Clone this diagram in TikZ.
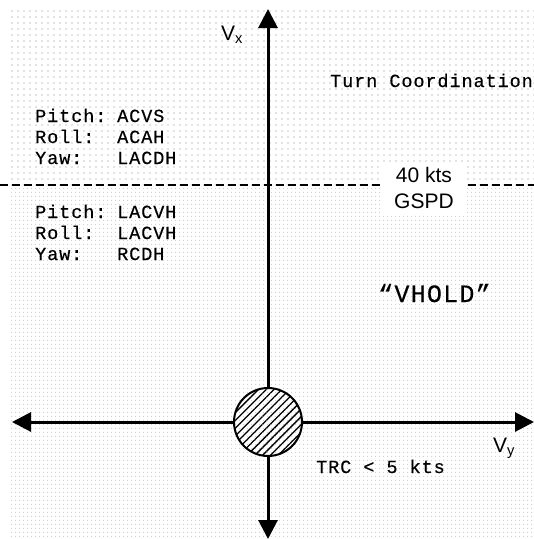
\documentclass[tikz,border=0pt]{standalone}
\usepackage{fontspec}
\usepackage{tikz}
\usetikzlibrary{arrows.meta, shapes, positioning, patterns.meta}
\newfontfamily\courfont[LetterSpace=5, FakeBold=0.4]{Liberation Mono}
\newfontfamily\arialfont{Liberation Sans}
\tikzset{
  mono/.style={font=\courfont\fontsize{18.5}{21}\selectfont, inner sep=0pt,
               anchor=base west},
  bigmono/.style={mono, font=\courfont\fontsize{25}{28}\selectfont},
  axlabel/.style={font=\arialfont\fontsize{21}{21}\selectfont, inner sep=0pt,
                  anchor=base west},
  gspdbox/.style={fill=white, align=center, inner xsep=12pt, inner ysep=5pt,
                  font=\arialfont\fontsize{21}{26}\selectfont},
  hubdisc/.style={circle, draw, line width=2pt, minimum size=68pt, inner sep=0pt,
                  pattern={Lines[angle=45, distance=5.5pt, line width=1.3pt]}},
  axis/.style={line width=3pt, -{Triangle[length=19pt, width=19pt]}},
  dashline/.style={line width=1.6pt, dash pattern=on 8pt off 4pt}
}
\begin{document}
\begin{tikzpicture}[x=1pt, y=-1pt]
  \useasboundingbox (0,0) rectangle (534,539);
  % dotted background, lighter above the 40 kts line
  \fill[pattern={Dots[distance=6pt, radius=0.8pt]}, pattern color=gray!45]
    (10,10) rectangle (534,185);
  \fill[pattern={Dots[distance=4pt, radius=0.8pt]}, pattern color=gray!40]
    (10,185) rectangle (534,539);
  \coordinate (dl) at (0,185);
  \coordinate (dr) at (534,185);
  \draw[dashline] (dl) -- (dr);
  \node[gspdbox] (gspd) at (424,187.5) {40 kts\\GSPD};
  % axes
  \node[hubdisc] (hub) at (268,422) {};
  \coordinate (top) at (268,9);
  \coordinate (bot) at (268,539);
  \coordinate (lft) at (12,422);
  \coordinate (rgt) at (534,422);
  \foreach \c/\a in {top/north, bot/south, lft/west, rgt/east}
    \draw[axis] (hub.\a) -- (\c);
  \node[axlabel] (vx) at (221,40) {V\textsubscript{x}};
  \node[axlabel] (vy) at (493,452) {V\textsubscript{y}};
  % modes
  \foreach \lab/\val/\y [count=\i] in {Pitch:/ACVS/122, Roll:/ACAH/143, Yaw:/LACDH/164} {
    \node[mono] (hil\i) at (35,\y) {\lab};
    \node[mono] (hiv\i) at (117,\y) {\val};
  }
  \foreach \lab/\val/\y [count=\i] in {Pitch:/LACVH/218, Roll:/LACVH/239, Yaw:/RCDH/260} {
    \node[mono] (lol\i) at (35,\y) {\lab};
    \node[mono] (lov\i) at (117,\y) {\val};
  }
  \node[mono] (turn) at (330,87) {Turn Coordination};
  \node[bigmono] (vhold) at (378,302) {“VHOLD”};
  \node[mono] (trc) at (316,473) {TRC < 5 kts};
\end{tikzpicture}
\end{document}
